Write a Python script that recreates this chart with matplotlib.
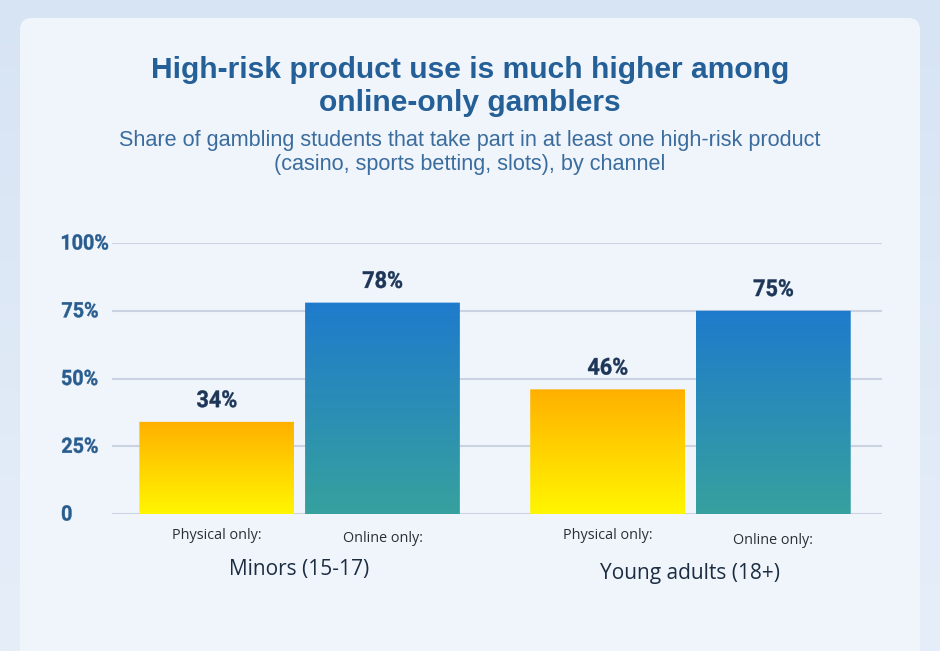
import numpy as np
import matplotlib.pyplot as plt
from matplotlib.patches import FancyBboxPatch, PathPatch
from matplotlib.colors import LinearSegmentedColormap
from matplotlib.textpath import TextPath
from matplotlib.font_manager import FontProperties
from matplotlib.transforms import Affine2D, IdentityTransform

groups = ["Minors (15-17)", "Young adults (18+)"]
channels = ["Physical only:", "Online only:"]
physical = [34, 46]
online = [78, 75]
y_ticks = [0, 25, 50, 75, 100]
y_tick_labels = ["0", "25%", "50%", "75%", "100%"]

W, H = 940, 651
fig = plt.figure(figsize=(W / 100, H / 100), dpi=100)


def fx(px):
    return px / W


def fy(py):
    return 1 - py / H


# condensed bold numbers (squeezed text paths, since no condensed font is around)
num_font = FontProperties(family=["Roboto", "DejaVu Sans"], weight="bold")
ref = TextPath((0, 0), "100%", size=100, prop=num_font).get_extents()
SQUEEZE = 46 / (ref.width * 15.5 / ref.height)


def narrow_text(x_px, y_px, s, cap_px, color, ha="center"):
    # y_px measured from the top of the image, text vertically centred
    tp = TextPath((0, 0), s, size=100, prop=num_font)
    ext = TextPath((0, 0), "0", size=100, prop=num_font).get_extents()
    sy = cap_px / ext.height
    sx = sy * SQUEEZE
    e = tp.get_extents()
    if ha == "center":
        dx = -(e.x0 + e.width / 2)
    else:
        dx = -e.x0
    tr = (Affine2D().translate(dx, -(ext.y0 + ext.height / 2)).scale(sx, sy)
          .translate(x_px, H - y_px) + IdentityTransform())
    fig.add_artist(PathPatch(tp, fc=color, ec=color, lw=0.3, transform=tr, zorder=5))


# background + card
bg = fig.add_axes([0, 0, 1, 1])
bg.set_xlim(0, W)
bg.set_ylim(H, 0)
bg.axis("off")
grad = np.linspace(0, 1, 256).reshape(-1, 1)
bg_cmap = LinearSegmentedColormap.from_list("bg", ["#d7e4f4", "#e6eef9"])
bg.imshow(grad, cmap=bg_cmap, extent=[0, W, H, 0], aspect="auto")
card = FancyBboxPatch((20, 18), 900, 660, boxstyle="round,pad=0,rounding_size=12",
                      fc="#f0f5fb", ec="none")
bg.add_patch(card)

title_font = ["Liberation Sans", "DejaVu Sans"]
body = ["Open Sans", "DejaVu Sans"]

fig.text(0.5, fy(86.5), "High-risk product use is much higher among\nonline-only gamblers",
         ha="center", va="center", fontsize=21.6, fontweight="bold", color="#245f97",
         family=title_font, linespacing=1.25)
fig.text(0.5, fy(152.5), "Share of gambling students that take part in at least one high-risk product\n(casino, sports betting, slots), by channel",
         ha="center", va="center", fontsize=15.6, color="#3a6c9e", family=title_font,
         linespacing=1.2)

# plot area: x 112..882, y 243..514
ax = fig.add_axes([fx(112), fy(514), fx(882 - 112), (514 - 243) / H])
ax.set_facecolor("none")
ax.set_xlim(-0.48, 1.49)
ax.set_ylim(0, 100)
for s in ax.spines.values():
    s.set_visible(False)
ax.set_xticks([])
ax.set_yticks(y_ticks)
ax.set_yticklabels([])
ax.tick_params(axis="y", length=0)
ax.yaxis.grid(True, color="#cbd3e2", linewidth=1.5)
ax.set_axisbelow(True)

for t, lab in zip(y_ticks, y_tick_labels):
    py = H - ax.transData.transform((0, t))[1]
    narrow_text(62, py - 1, lab, 15.5, "#2a5d8f", ha="left")

x = np.arange(len(groups))
width = 0.396
offset = 0.212
yellow = LinearSegmentedColormap.from_list("yel", ["#fff600", "#ffb000"])
blue = LinearSegmentedColormap.from_list("blu", ["#36a19e", "#1e7bcc"])

for vals, off, cmap in [(physical, -offset, yellow), (online, offset, blue)]:
    bars = ax.bar(x + off, vals, width=width, color="none", edgecolor="none", zorder=2)
    for b, v in zip(bars, vals):
        x0, w = b.get_x(), b.get_width()
        patch = FancyBboxPatch((x0, 0), w, v, boxstyle="round,pad=0,rounding_size=0.008",
                               mutation_aspect=100 / 1.97 * 770 / 271 / 100,
                               fc="none", ec="none", transform=ax.transData)
        ax.add_patch(patch)
        im = ax.imshow(grad, cmap=cmap, extent=[x0, x0 + w, 0, v], aspect="auto",
                       origin="lower", zorder=2)
        im.set_clip_path(patch)
        bx, by = ax.transData.transform((x0 + w / 2, v))
        narrow_text(bx, H - by - 23, f"{v}%", 17, "#1d3658")
    ax.set_xlim(-0.48, 1.49)
    ax.set_ylim(0, 100)

# per-bar channel labels and group labels
for i, g in enumerate(groups):
    ax.text(x[i] - offset, -7.8, channels[0], ha="center", va="center",
            family=body, fontsize=10.4, color="#2b2f36")
    ax.text(x[i] + offset, -9.0 - 0.9 * i, channels[1], ha="center", va="center",
            family=body, fontsize=10.4, color="#2b2f36")
    ax.text(x[i], -20.3 - 1.8 * i, g, ha="center", va="center",
            family=body, fontsize=15, fontweight="medium", color="#1c2d42")

fig.savefig("out.png", dpi=100)
